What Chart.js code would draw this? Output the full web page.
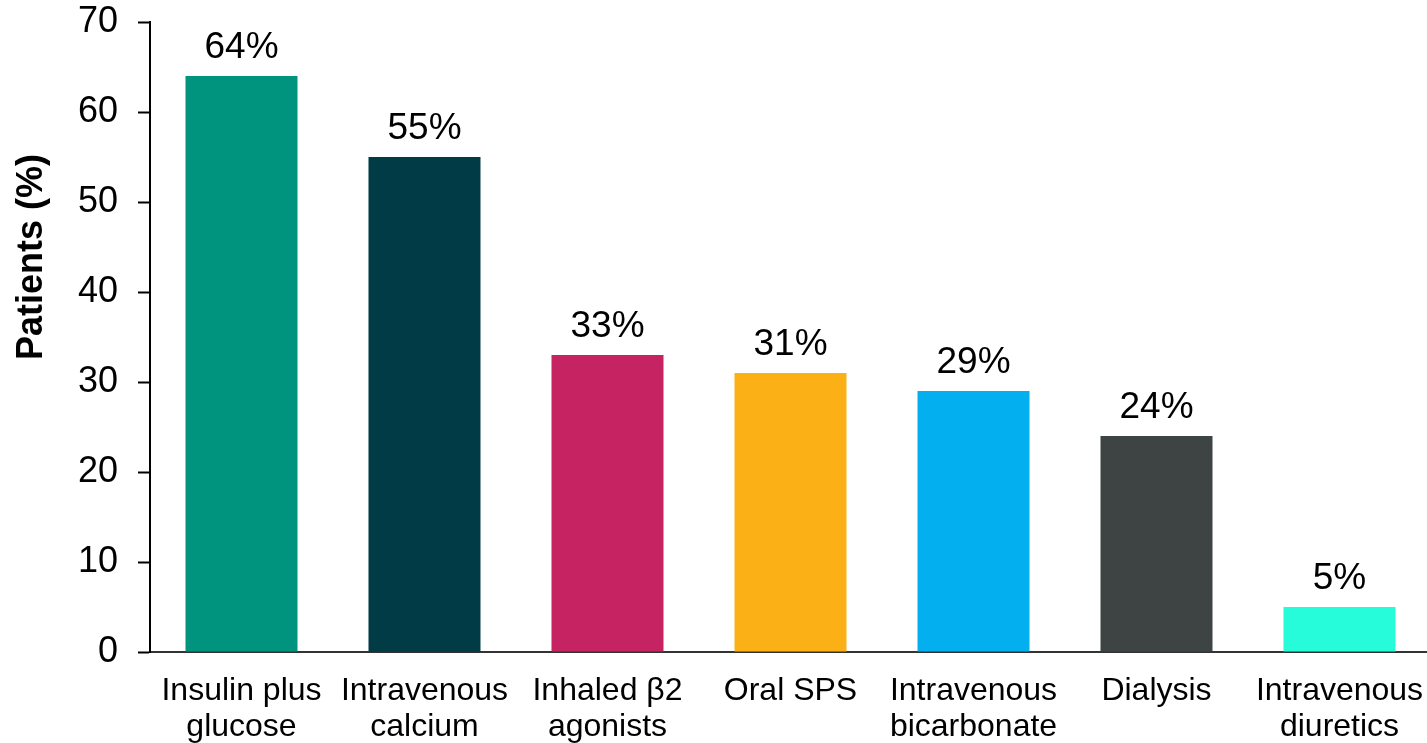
<!DOCTYPE html>
<html>
<head>
<meta charset="utf-8">
<script src="https://cdn.jsdelivr.net/npm/chart.js@4"></script>
<style>
  html, body { margin: 0; padding: 0; background: #ffffff; overflow: hidden; }
  #wrap { position: relative; width: 1440px; height: 743px; }
</style>
</head>
<body>
<div id="wrap"><canvas id="chart" width="1440" height="743"></canvas></div>
<script>
// Hyperkalaemia treatments given to patients
const categories = [
  ['Insulin plus', 'glucose'],
  ['Intravenous', 'calcium'],
  ['Inhaled β2', 'agonists'],
  ['Oral SPS'],
  ['Intravenous', 'bicarbonate'],
  ['Dialysis'],
  ['Intravenous', 'diuretics']
];
const patientsPct = [64, 55, 33, 31, 29, 24, 5];
const barColors = ['#00937e', '#003b46', '#c52361', '#fbb116', '#04aff0', '#3e4444', '#26fcda'];
const yTickValues = [0, 10, 20, 30, 40, 50, 60, 70];
const yTitle = 'Patients (%)';

const FONT = "'Liberation Sans', Arial, sans-serif";

// Percent labels above each bar
const valueLabels = {
  id: 'valueLabels',
  afterDatasetsDraw(chart) {
    const ctx = chart.ctx;
    const meta = chart.getDatasetMeta(0);
    ctx.save();
    ctx.font = '37px ' + FONT;
    ctx.fillStyle = '#000000';
    ctx.textAlign = 'center';
    ctx.textBaseline = 'alphabetic';
    meta.data.forEach((bar, i) => {
      ctx.fillText(patientsPct[i] + '%', bar.x, bar.y - 18);
    });
    ctx.restore();
  }
};

// Rotated y-axis title
const yAxisTitle = {
  id: 'yAxisTitle',
  afterDraw(chart) {
    const ctx = chart.ctx;
    ctx.save();
    ctx.translate(32, chart.chartArea.top + 235);
    ctx.rotate(-Math.PI / 2);
    ctx.font = 'bold 36px ' + FONT;
    ctx.fillStyle = '#000000';
    ctx.textAlign = 'center';
    ctx.textBaseline = 'middle';
    ctx.fillText(yTitle, 0, 0);
    ctx.restore();
  }
};

new Chart(document.getElementById('chart'), {
  type: 'bar',
  data: {
    labels: categories,
    datasets: [{
      data: patientsPct,
      backgroundColor: barColors,
      borderWidth: 0,
      barPercentage: 0.612,
      categoryPercentage: 1.0
    }]
  },
  options: {
    responsive: false,
    animation: false,
    events: [],
    layout: { padding: { top: 22, right: 9, left: 0, bottom: 0 } },
    plugins: {
      legend: { display: false },
      tooltip: { enabled: false },
      title: { display: false }
    },
    scales: {
      x: {
        grid: { display: false },
        border: { display: true, color: '#333333', width: 2 },
        ticks: {
          color: '#000000',
          font: { family: FONT, size: 32, lineHeight: 1.1 },
          padding: 14,
          maxRotation: 0,
          autoSkip: false
        },
        afterFit(scale) {
          scale.height = 91;
          scale.paddingLeft = 0;
          scale.paddingRight = 0;
        }
      },
      y: {
        min: 0,
        max: 70,
        afterBuildTicks(scale) { scale.ticks = yTickValues.map(v => ({ value: v })); },
        grid: {
          display: true,
          drawOnChartArea: false,
          drawTicks: true,
          tickLength: 12,
          tickWidth: 2,
          color: '#000000'
        },
        border: { display: true, color: '#000000', width: 2 },
        ticks: {
          color: '#000000',
          font: { family: FONT, size: 36 },
          padding: 20
        },
        afterFit(scale) {
          scale.width = 150;
          scale.paddingTop = 0;
          scale.paddingBottom = 0;
        }
      }
    }
  },
  plugins: [valueLabels, yAxisTitle]
});
</script>
</body>
</html>
